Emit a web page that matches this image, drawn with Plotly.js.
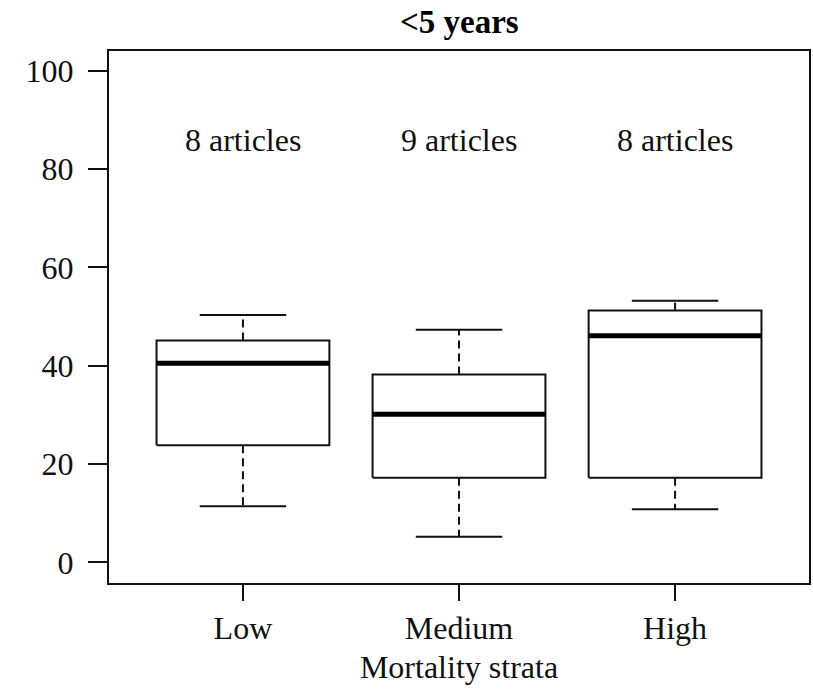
<!DOCTYPE html>
<html>
<head>
<meta charset="utf-8">
<script src="https://cdn.plot.ly/plotly-3.0.1.min.js"></script>
<style>html,body{margin:0;padding:0;background:#fff;}#chart{width:813px;height:692px;}</style>
</head>
<body>
<div id="chart"></div>
<script>
// Data
const categories = ["Low", "Medium", "High"];
const lowerWhisker = [11.4, 5.2, 10.8];
const q1 = [23.8, 17.2, 17.2];
const median = [40.5, 30.1, 46.1];
const q3 = [45.1, 38.2, 51.2];
const upperWhisker = [50.3, 47.3, 53.2];
const articleLabels = ["8 articles", "9 articles", "8 articles"];
const yTicks = [0, 20, 40, 60, 80, 100];

const FONT = "Liberation Serif";
const INK = "#111";
const halfBox = 0.4, halfCap = 0.2;

const pos = categories.map((c, i) => i + 1);

const boxX = [], boxY = [], medX = [], medY = [], whX = [], whY = [], capX = [], capY = [];
pos.forEach((p, i) => {
  boxX.push(p - halfBox, p + halfBox, p + halfBox, p - halfBox, p - halfBox, null);
  boxY.push(q1[i], q1[i], q3[i], q3[i], q1[i], null);
  medX.push(p - halfBox, p + halfBox, null);
  medY.push(median[i], median[i], null);
  whX.push(p, p, null, p, p, null);
  whY.push(q3[i], upperWhisker[i], null, q1[i], lowerWhisker[i], null);
  capX.push(p - halfCap, p + halfCap, null, p - halfCap, p + halfCap, null);
  capY.push(upperWhisker[i], upperWhisker[i], null, lowerWhisker[i], lowerWhisker[i], null);
});

const common = {type: "scatter", mode: "lines", hoverinfo: "skip", showlegend: false};
const traces = [
  Object.assign({}, common, {x: whX, y: whY, line: {color: INK, width: 2, dash: "8px,5px"}}),
  Object.assign({}, common, {x: capX, y: capY, line: {color: INK, width: 2}}),
  Object.assign({}, common, {x: boxX, y: boxY, line: {color: INK, width: 2}}),
  Object.assign({}, common, {x: medX, y: medY, line: {color: "#000", width: 5}})
];

const annotations = pos.map((p, i) => ({
  x: p, y: 86, xref: "x", yref: "y", text: articleLabels[i], showarrow: false,
  font: {family: FONT, size: 32, color: "#111"}, xanchor: "center", yanchor: "middle"
}));

const layout = {
  width: 813, height: 692,
  margin: {l: 109, r: 4, t: 51, b: 109},
  paper_bgcolor: "#fff", plot_bgcolor: "#fff",
  title: {text: "<b>&lt;5 years</b>", x: 0.565, xanchor: "center", y: 0.969, yanchor: "middle",
          font: {family: FONT, size: 33, color: "#000"}},
  xaxis: {
    range: [0.38, 3.62], tickmode: "array", tickvals: pos, ticktext: categories,
    showgrid: false, zeroline: false, showline: true, mirror: true, linecolor: INK, linewidth: 2,
    ticks: "outside", ticklen: 16, tickwidth: 2, tickcolor: INK, ticklabelstandoff: 0,
    tickfont: {family: FONT, size: 32, color: "#111"},
    title: {text: "Mortality strata", font: {family: FONT, size: 32, color: "#111"}, standoff: 10}
  },
  yaxis: {
    range: [-4.2, 104], tickmode: "array", tickvals: yTicks,
    showgrid: false, zeroline: false, showline: true, mirror: true, linecolor: INK, linewidth: 2,
    ticks: "outside", ticklen: 19, tickwidth: 2, tickcolor: INK, ticklabelstandoff: 8,
    tickfont: {family: FONT, size: 32, color: "#111"}
  },
  annotations: annotations
};

Plotly.newPlot("chart", traces, layout, {displayModeBar: false, staticPlot: true});
</script>
</body>
</html>
